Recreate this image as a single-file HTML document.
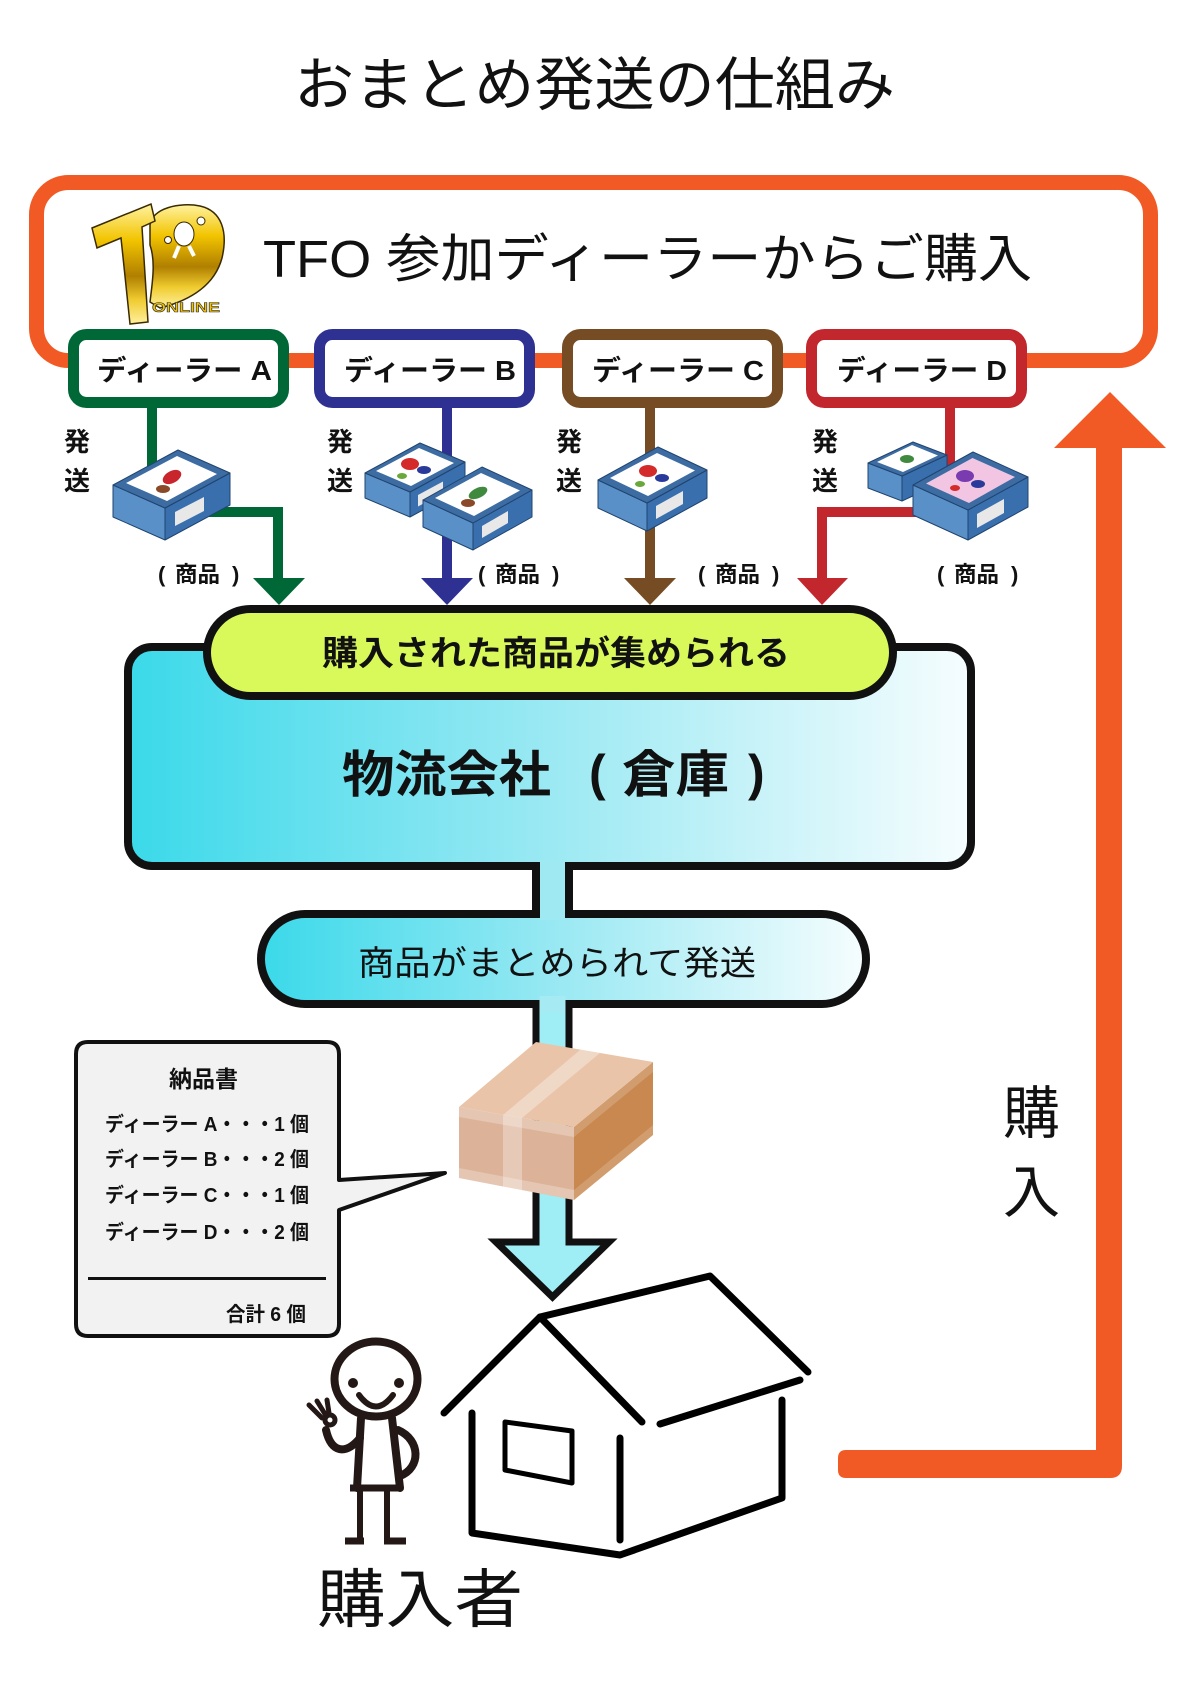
<!DOCTYPE html>
<html lang="ja">
<head>
<meta charset="utf-8">
<style>
html,body{margin:0;padding:0;background:#fff;}
svg{display:block;}
</style>
</head>
<body>
<svg width="1191" height="1684" viewBox="0 0 1191 1684" xmlns="http://www.w3.org/2000/svg" font-family="'Liberation Sans','Noto Sans CJK JP',sans-serif">
<defs>
  <linearGradient id="cy" x1="0" y1="0" x2="1" y2="0">
    <stop offset="0" stop-color="#3ad9ea"/>
    <stop offset="0.5" stop-color="#9be9f3"/>
    <stop offset="1" stop-color="#f6fdfe"/>
  </linearGradient>
  <linearGradient id="gold" x1="0" y1="0" x2="0" y2="1">
    <stop offset="0" stop-color="#fff2a0"/>
    <stop offset="0.3" stop-color="#f2c400"/>
    <stop offset="0.6" stop-color="#b07f00"/>
    <stop offset="0.8" stop-color="#f0cc30"/>
    <stop offset="1" stop-color="#fff0a0"/>
  </linearGradient>
</defs>
<rect x="0" y="0" width="1191" height="1684" fill="#fff"/>

<!-- Title -->
<text x="294" y="105" font-size="58" textLength="601" lengthAdjust="spacingAndGlyphs" fill="#111">おまとめ発送の仕組み</text>

<!-- Orange frame -->
<rect x="36.5" y="182.5" width="1114" height="178" rx="32" fill="#fff" stroke="#f15a24" stroke-width="15"/>

<!-- Logo -->
<g stroke="#3a2a00" stroke-width="1.5">
  <path d="M150,225 C152,208 180,202 200,206 C222,211 228,232 222,258 C215,284 192,300 160,308 L150,302 C152,285 156,262 150,245 Z" fill="url(#gold)"/>
  <polygon points="92,228 151,204 155,221 142,227 148,322 130,324 121,238 97,248" fill="url(#gold)"/>
  <ellipse cx="184" cy="234" rx="10" ry="12" fill="#fff" stroke-width="1"/>
  <circle cx="201" cy="221" r="4" fill="#fff" stroke-width="1"/>
  <circle cx="168" cy="240" r="3.5" fill="#fff" stroke-width="1"/>
  <path d="M179,246 L174,258 M189,246 L194,256" stroke="#fff" stroke-width="4"/>
</g>
<text x="152" y="312" font-size="14" font-weight="bold" textLength="68" lengthAdjust="spacingAndGlyphs" fill="#f2c200" stroke="#333" stroke-width="0.6">ONLINE</text>

<text x="263" y="277" font-size="52" textLength="769" lengthAdjust="spacingAndGlyphs" fill="#111">TFO 参加ディーラーからご購入</text>

<!-- Dealer boxes -->
<rect x="73.5" y="334.5" width="210" height="68" rx="13" fill="#fff" stroke="#006837" stroke-width="11"/>
<rect x="319.5" y="334.5" width="210" height="68" rx="13" fill="#fff" stroke="#2e3192" stroke-width="11"/>
<rect x="567.5" y="334.5" width="210" height="68" rx="13" fill="#fff" stroke="#754c24" stroke-width="11"/>
<rect x="811.5" y="334.5" width="210" height="68" rx="13" fill="#fff" stroke="#c1272d" stroke-width="11"/>
<g font-size="28" font-weight="bold" fill="#111">
  <text x="97" y="380" textLength="175" lengthAdjust="spacingAndGlyphs">ディーラー A</text>
  <text x="344" y="380" textLength="172" lengthAdjust="spacingAndGlyphs">ディーラー B</text>
  <text x="592" y="380" textLength="172" lengthAdjust="spacingAndGlyphs">ディーラー C</text>
  <text x="837" y="380" textLength="170" lengthAdjust="spacingAndGlyphs">ディーラー D</text>
</g>

<!-- connector lines -->
<path d="M152,408 V512 H278 V582" fill="none" stroke="#006837" stroke-width="10"/>
<polygon points="253,578 305,578 279,605" fill="#006837"/>
<path d="M447,408 V582" fill="none" stroke="#2e3192" stroke-width="10"/>
<polygon points="421,578 473,578 447,605" fill="#2e3192"/>
<path d="M650,408 V582" fill="none" stroke="#754c24" stroke-width="10"/>
<polygon points="624,578 676,578 650,605" fill="#754c24"/>
<path d="M950,408 V512 H822 V582" fill="none" stroke="#c1272d" stroke-width="10"/>
<polygon points="797,578 848,578 822,605" fill="#c1272d"/>

<!-- packages -->
<g stroke="#1f4470" stroke-width="1" stroke-linejoin="round">
  <polygon points="113,485 165,508 165,540 113,517" fill="#5a90c8"/>
  <polygon points="165,508 230,473 230,505 165,540" fill="#3a6fae"/>
  <polygon points="113,485 178,450 230,473 165,508" fill="#3d6ca3"/>
  <polygon points="126,483 177,456 217,474 167,501" fill="#fff" stroke="none"/>
  <polygon points="175,512 204,497 204,511 175,526" fill="#e8e8e8" stroke="none"/>
  <polygon points="365,473 410,492 410,517 365,498" fill="#5a90c8"/>
  <polygon points="410,492 465,462 465,487 410,517" fill="#3a6fae"/>
  <polygon points="365,473 420,443 465,462 410,492" fill="#3d6ca3"/>
  <polygon points="376,471 419,448 454,463 411,486" fill="#fff" stroke="none"/>
  <polygon points="418,495 443,481.5 443,493 418,506.5" fill="#e8e8e8" stroke="none"/>
  <polygon points="423,500 473,523 473,550 423,527" fill="#5a90c8"/>
  <polygon points="473,523 532,490 532,517 473,550" fill="#3a6fae"/>
  <polygon points="423,500 482,467 532,490 473,523" fill="#3d6ca3"/>
  <polygon points="435,498 481,473 520,490.5 474,516" fill="#fff" stroke="none"/>
  <polygon points="482,526 508,511 508,523 482,538" fill="#e8e8e8" stroke="none"/>
  <polygon points="598,480 647,503 647,531 598,508" fill="#5a90c8"/>
  <polygon points="647,503 707,470 707,498 647,531" fill="#3a6fae"/>
  <polygon points="598,480 658,447 707,470 647,503" fill="#3d6ca3"/>
  <polygon points="610,478 657,453 695,470.5 648,496" fill="#fff" stroke="none"/>
  <polygon points="656,506 683,491 683,504 656,519" fill="#e8e8e8" stroke="none"/>
  <polygon points="868,463 902,476 902,501 868,488" fill="#5a90c8"/>
  <polygon points="902,476 947,455 947,480 902,501" fill="#3a6fae"/>
  <polygon points="868,463 913,442 947,455 902,476" fill="#3d6ca3"/>
  <polygon points="877,462 912,445 938,455.5 903,472" fill="#fff" stroke="none"/>
  <polygon points="913,485 968,510 968,540 913,515" fill="#5a90c8"/>
  <polygon points="968,510 1028,477 1028,507 968,540" fill="#3a6fae"/>
  <polygon points="913,485 973,452 1028,477 968,510" fill="#3d6ca3"/>
  <polygon points="926,483.5 972.5,458 1015,477 969,503" fill="#f2c6e2" stroke="none"/>
  <polygon points="977,514 1004,499 1004,513 977,528" fill="#e8e8e8" stroke="none"/>
</g>
<g stroke="none">
  <ellipse cx="172" cy="477" rx="10" ry="6" fill="#c8252c" transform="rotate(-28 172 477)"/>
  <ellipse cx="163" cy="489" rx="7" ry="4" fill="#8a4a2a"/>
  <ellipse cx="410" cy="464" rx="9" ry="6" fill="#d42a2a"/>
  <ellipse cx="424" cy="470" rx="7" ry="4" fill="#2a3a9a"/>
  <ellipse cx="402" cy="476" rx="5" ry="3" fill="#6aa83a"/>
  <ellipse cx="478" cy="493" rx="10" ry="5" fill="#3f8a3f" transform="rotate(-25 478 493)"/>
  <ellipse cx="468" cy="503" rx="7" ry="4" fill="#8a4a2a"/>
  <ellipse cx="648" cy="471" rx="9" ry="6" fill="#d42a2a"/>
  <ellipse cx="662" cy="478" rx="7" ry="4" fill="#2a3a9a"/>
  <ellipse cx="640" cy="484" rx="5" ry="3" fill="#6aa83a"/>
  <ellipse cx="907" cy="459" rx="7" ry="4" fill="#3f8a3f"/>
  <ellipse cx="965" cy="476" rx="9" ry="6" fill="#7a3ab0"/>
  <ellipse cx="978" cy="484" rx="7" ry="4" fill="#2a3a9a"/>
  <ellipse cx="955" cy="488" rx="5" ry="3" fill="#d42a2a"/>
</g>

<!-- 発送 labels -->
<g font-size="26" font-weight="bold" fill="#111">
  <text x="64" y="451">発</text><text x="64" y="490">送</text>
  <text x="327" y="451">発</text><text x="327" y="490">送</text>
  <text x="556" y="451">発</text><text x="556" y="490">送</text>
  <text x="812" y="451">発</text><text x="812" y="490">送</text>
</g>
<g font-size="22" font-weight="bold" fill="#111">
  <text x="158" y="582">(</text><text x="175" y="582" textLength="45" lengthAdjust="spacingAndGlyphs">商品</text><text x="232" y="582">)</text>
  <text x="478" y="582">(</text><text x="495" y="582" textLength="45" lengthAdjust="spacingAndGlyphs">商品</text><text x="552" y="582">)</text>
  <text x="698" y="582">(</text><text x="715" y="582" textLength="45" lengthAdjust="spacingAndGlyphs">商品</text><text x="772" y="582">)</text>
  <text x="937" y="582">(</text><text x="954" y="582" textLength="45" lengthAdjust="spacingAndGlyphs">商品</text><text x="1011" y="582">)</text>
</g>

<!-- Main box -->
<rect x="128" y="647" width="843" height="219" rx="24" fill="url(#cy)" stroke="#111" stroke-width="8"/>
<rect x="207" y="609" width="686" height="87" rx="43.5" fill="#d9f95a" stroke="#111" stroke-width="8"/>
<text x="322" y="665" font-size="34" font-weight="bold" textLength="468" lengthAdjust="spacingAndGlyphs" fill="#111">購入された商品が集められる</text>
<g font-size="50" font-weight="bold" fill="#111">
  <text x="342" y="792" textLength="209" lengthAdjust="spacingAndGlyphs">物流会社</text>
  <text x="589" y="790">(</text>
  <text x="622" y="792" textLength="107" lengthAdjust="spacingAndGlyphs">倉庫</text>
  <text x="748" y="790">)</text>
</g>

<!-- Pill 2 -->
<rect x="261" y="914" width="605" height="90" rx="44" ry="45" fill="url(#cy)" stroke="#111" stroke-width="8"/>
<text x="358" y="975" font-size="34" textLength="398" lengthAdjust="spacingAndGlyphs" fill="#111">商品がまとめられて発送</text>

<!-- connector 1 -->
<rect x="540" y="860" width="25" height="60" fill="#9fe9f3"/>
<rect x="532" y="866" width="8" height="48" fill="#111"/>
<rect x="565" y="866" width="8" height="48" fill="#111"/>

<!-- connector 2 + arrow -->
<polygon points="536,1004 569,1004 569,1242 609,1242 552.5,1297 496,1242 536,1242" fill="#9feef6" stroke="#111" stroke-width="7" stroke-linejoin="miter"/>
<rect x="539.5" y="996" width="26" height="16" fill="#a6ebf4"/>

<!-- cardboard box -->
<polygon points="459,1107 574,1127 574,1200 459,1178" fill="#dcb398"/>
<polygon points="574,1127 653,1062 653,1135 574,1200" fill="#c8884f"/>
<polygon points="459,1107 536,1042 653,1062 574,1127" fill="#e9c4a8"/>
<polygon points="503,1115 522,1118 600,1053 580.5,1049.6" fill="#fff" opacity="0.35"/>
<polygon points="503,1115 522,1118 522,1191 503,1188" fill="#fff" opacity="0.3"/>
<polygon points="459,1107 574,1127 574,1137 459,1117" fill="#fff" opacity="0.25"/>
<polygon points="459,1168 574,1190 574,1200 459,1178" fill="#fff" opacity="0.25"/>
<polygon points="574,1127 653,1062 653,1072 574,1137" fill="#fff" opacity="0.18"/>
<polygon points="574,1190 653,1125 653,1135 574,1200" fill="#fff" opacity="0.18"/>

<!-- Invoice -->
<path d="M88,1042 H327 Q339,1042 339,1054 V1180 L445,1173 L339,1210 V1324 Q339,1336 327,1336 H88 Q76,1336 76,1324 V1054 Q76,1042 88,1042 Z" fill="#f2f2f2" stroke="#111" stroke-width="4" stroke-linejoin="round"/>
<text x="169" y="1087" font-size="23" font-weight="bold" textLength="69" lengthAdjust="spacingAndGlyphs" fill="#111">納品書</text>
<g font-size="20" font-weight="bold" fill="#111">
  <text x="105" y="1131" textLength="204" lengthAdjust="spacingAndGlyphs">ディーラー A・・・1 個</text>
  <text x="105" y="1166" textLength="204" lengthAdjust="spacingAndGlyphs">ディーラー B・・・2 個</text>
  <text x="105" y="1202" textLength="204" lengthAdjust="spacingAndGlyphs">ディーラー C・・・1 個</text>
  <text x="105" y="1239" textLength="204" lengthAdjust="spacingAndGlyphs">ディーラー D・・・2 個</text>
  <text x="226" y="1321" textLength="80" lengthAdjust="spacingAndGlyphs">合計 6 個</text>
</g>
<rect x="88" y="1277" width="238" height="3" fill="#111"/>

<!-- Orange return arrow -->
<polygon points="1110,392 1166,448 1054,448" fill="#f15a24"/>
<path d="M1096,446 H1122 V1466 Q1122,1478 1110,1478 H846 Q838,1478 838,1470 V1458 Q838,1450 846,1450 H1096 Z" fill="#f15a24"/>
<g font-size="57" fill="#111">
  <text x="1003" y="1133">購</text>
  <text x="1003" y="1212">入</text>
</g>

<!-- Person -->
<g stroke="#231815" fill="none" stroke-linecap="round" stroke-linejoin="round">
  <path d="M361,1418 L357,1488 M392,1418 L400,1488" stroke-width="8"/>
  <path d="M350,1488 H402" stroke-width="7" stroke-linecap="butt"/>
  <path d="M360,1488 V1540 M387,1488 V1540" stroke-width="6" stroke-linecap="butt"/>
  <path d="M345,1541 H364 M384,1541 H406" stroke-width="7" stroke-linecap="butt"/>
  <path d="M398,1430 C421,1440 421,1468 400,1476" stroke-width="8"/>
  <path d="M360,1438 C345,1456 331,1452 326,1430" stroke-width="8"/>
  <circle cx="330" cy="1420" r="5" stroke-width="5"/>
  <path d="M322,1418 L309,1405 M325,1414 L317,1401 M329,1413 L327,1400" stroke-width="5"/>
  <ellipse cx="376" cy="1379" rx="41.5" ry="37.5" fill="#fff" stroke-width="8"/>
  <path d="M359,1395 Q376,1418 393,1395" stroke-width="6"/>
</g>
<circle cx="353" cy="1383" r="5" fill="#231815"/>
<circle cx="399" cy="1383" r="5" fill="#231815"/>

<!-- House -->
<g stroke="#000" fill="none" stroke-width="7" stroke-linecap="round" stroke-linejoin="round">
  <path d="M444,1413 L540,1317 L642,1422"/>
  <path d="M540,1317 L710,1276 L808,1372"/>
  <path d="M660,1424 L800,1380"/>
  <path d="M472,1413 V1533 L620,1555 L782,1498 V1400"/>
  <path d="M620,1438 V1540"/>
  <polygon points="505,1422 572,1431 572,1483 505,1470" stroke-width="5"/>
</g>

<text x="317" y="1622" font-size="64" textLength="206" lengthAdjust="spacingAndGlyphs" fill="#111">購入者</text>
</svg>
</body>
</html>
